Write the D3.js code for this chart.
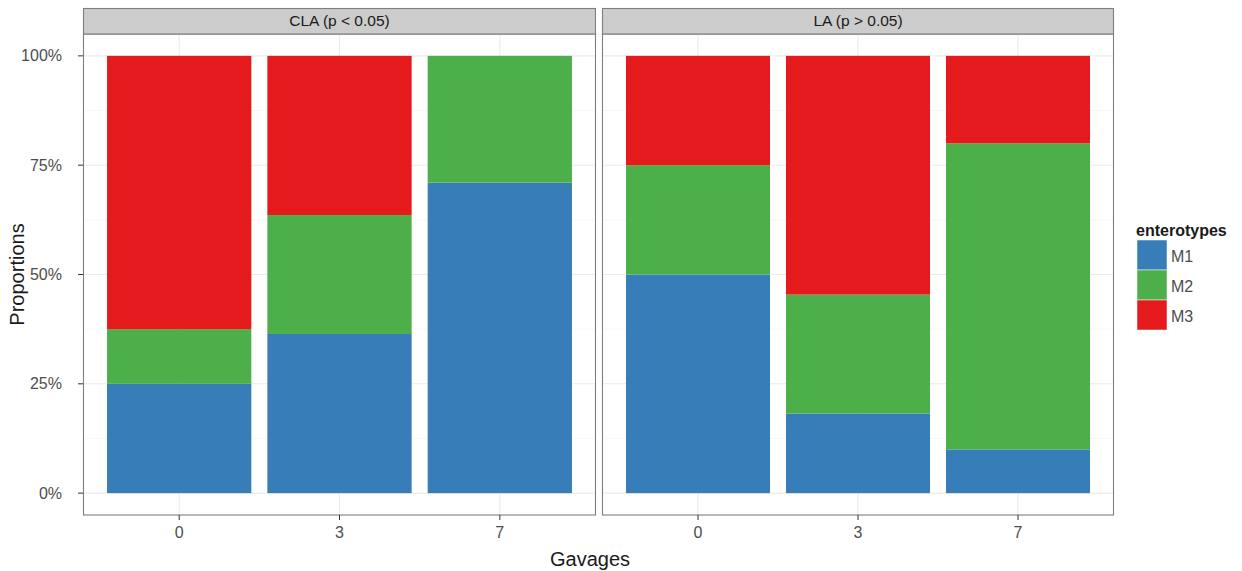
<!DOCTYPE html>
<html><head><meta charset="utf-8">
<script src="https://cdn.jsdelivr.net/npm/d3@7"></script>
<style>body{margin:0;background:#fff;} text{font-family:"Liberation Sans",Arial,sans-serif;}</style>
</head><body>
<svg id="chart" width="1242" height="571"></svg>
<script>
const panels = ["CLA (p < 0.05)", "LA (p > 0.05)"];
const gavages = ["0", "3", "7"];
const enterotypes = ["M1", "M2", "M3"];
const colors = ["#377EB8", "#4DAF4A", "#E41A1C"];
// proportions per panel, per gavage
const claM1 = [0.25, 0.364, 0.71];
const claM2 = [0.125, 0.272, 0.29];
const claM3 = [0.625, 0.364, 0.0];
const laM1 = [0.50, 0.182, 0.10];
const laM2 = [0.25, 0.272, 0.70];
const laM3 = [0.25, 0.546, 0.20];
const yTicks = [0, 0.25, 0.5, 0.75, 1];
const yTickLabels = ["0%", "25%", "50%", "75%", "100%"];

const panelData = [[claM1, claM2, claM3], [laM1, laM2, laM3]];

const svg = d3.select("#chart");
const panelX = [[83, 596], [602, 1114]];
const pTop = 34, pBottom = 515, stripTop = 8;
const tickFs = 16, stripFs = 15.5, titleFs = 20, legFs = 16;

const y = d3.scaleLinear().domain([-0.05, 1.05]).range([pBottom, pTop]);

panels.forEach((name, pi) => {
  const [x0, x1] = panelX[pi];
  const x = d3.scaleBand().domain(gavages).range([x0, x1]).paddingInner(0.1).paddingOuter(0.15);
  const bw = x.bandwidth();
  const cx = d => x(d) + bw / 2;
  const g = svg.append("g");
  g.append("rect").attr("x", x0).attr("y", pTop).attr("width", x1 - x0).attr("height", pBottom - pTop).attr("fill", "#fff");
  const minor = [0.125, 0.375, 0.625, 0.875];
  g.selectAll(".mn").data(minor).enter().append("line")
    .attr("x1", x0).attr("x2", x1).attr("y1", d => y(d)).attr("y2", d => y(d))
    .attr("stroke", "#f2f2f2").attr("stroke-width", 0.6);
  g.selectAll(".mj").data(yTicks).enter().append("line")
    .attr("x1", x0).attr("x2", x1).attr("y1", d => y(d)).attr("y2", d => y(d))
    .attr("stroke", "#ebebeb").attr("stroke-width", 1.1);
  g.selectAll(".vx").data(gavages).enter().append("line")
    .attr("x1", d => cx(d)).attr("x2", d => cx(d)).attr("y1", pTop).attr("y2", pBottom)
    .attr("stroke", "#ebebeb").attr("stroke-width", 1.1);
  const series = panelData[pi];
  gavages.forEach((gv, i) => {
    let cum = 0;
    enterotypes.forEach((e, k) => {
      const v = series[k][i];
      if (v > 0) {
        g.append("rect")
          .attr("x", x(gv)).attr("width", bw)
          .attr("y", y(cum + v)).attr("height", y(cum) - y(cum + v))
          .attr("fill", colors[k]);
      }
      cum += v;
    });
  });
  g.append("rect").attr("x", x0 + 0.5).attr("y", pTop).attr("width", x1 - x0 - 1).attr("height", pBottom - pTop)
    .attr("fill", "none").attr("stroke", "#7f7f7f").attr("stroke-width", 1.1);
  g.append("rect").attr("x", x0 + 0.5).attr("y", stripTop + 0.5).attr("width", x1 - x0 - 1).attr("height", pTop - stripTop - 0.5)
    .attr("fill", "#cccccc").attr("stroke", "#7f7f7f").attr("stroke-width", 1.1);
  g.append("text").attr("x", (x0 + x1) / 2).attr("y", 21).attr("dy", "0.35em")
    .attr("text-anchor", "middle").attr("font-size", stripFs).attr("fill", "#1a1a1a").text(name);
  gavages.forEach(gv => {
    g.append("line").attr("x1", cx(gv)).attr("x2", cx(gv)).attr("y1", pBottom).attr("y2", pBottom + 5)
      .attr("stroke", "#333").attr("stroke-width", 1);
    g.append("text").attr("x", cx(gv)).attr("y", pBottom + 17).attr("dy", "0.35em")
      .attr("text-anchor", "middle").attr("font-size", tickFs).attr("fill", "#4d4d4d").text(gv);
  });
});

const ya = svg.append("g");
yTicks.forEach((t, i) => {
  ya.append("line").attr("x1", 78).attr("x2", 83).attr("y1", y(t)).attr("y2", y(t)).attr("stroke", "#333");
  ya.append("text").attr("x", 62).attr("y", y(t)).attr("dy", "0.35em").attr("text-anchor", "end")
    .attr("font-size", tickFs).attr("fill", "#4d4d4d").text(yTickLabels[i]);
});

svg.append("text").attr("x", 590).attr("y", 559).attr("dy", "0.35em").attr("text-anchor", "middle")
  .attr("font-size", titleFs).attr("fill", "#1a1a1a").text("Gavages");
svg.append("text").attr("transform", `translate(17,${(pTop + pBottom) / 2}) rotate(-90)`).attr("dy", "0.35em")
  .attr("text-anchor", "middle").attr("font-size", titleFs).attr("fill", "#1a1a1a").text("Proportions");

const lg = svg.append("g");
lg.append("text").attr("x", 1136).attr("y", 230).attr("dy", "0.35em").attr("font-size", legFs)
  .attr("font-weight", "bold").attr("fill", "#1a1a1a").text("enterotypes");
enterotypes.forEach((e, k) => {
  lg.append("rect").attr("x", 1137).attr("y", 240 + k * 30).attr("width", 30).attr("height", 30)
    .attr("fill", colors[k]).attr("stroke", "#fff").attr("stroke-width", 0.5);
  lg.append("text").attr("x", 1171).attr("y", 256 + k * 30).attr("dy", "0.35em").attr("font-size", legFs)
    .attr("fill", "#4d4d4d").text(e);
});
</script>
</body></html>
